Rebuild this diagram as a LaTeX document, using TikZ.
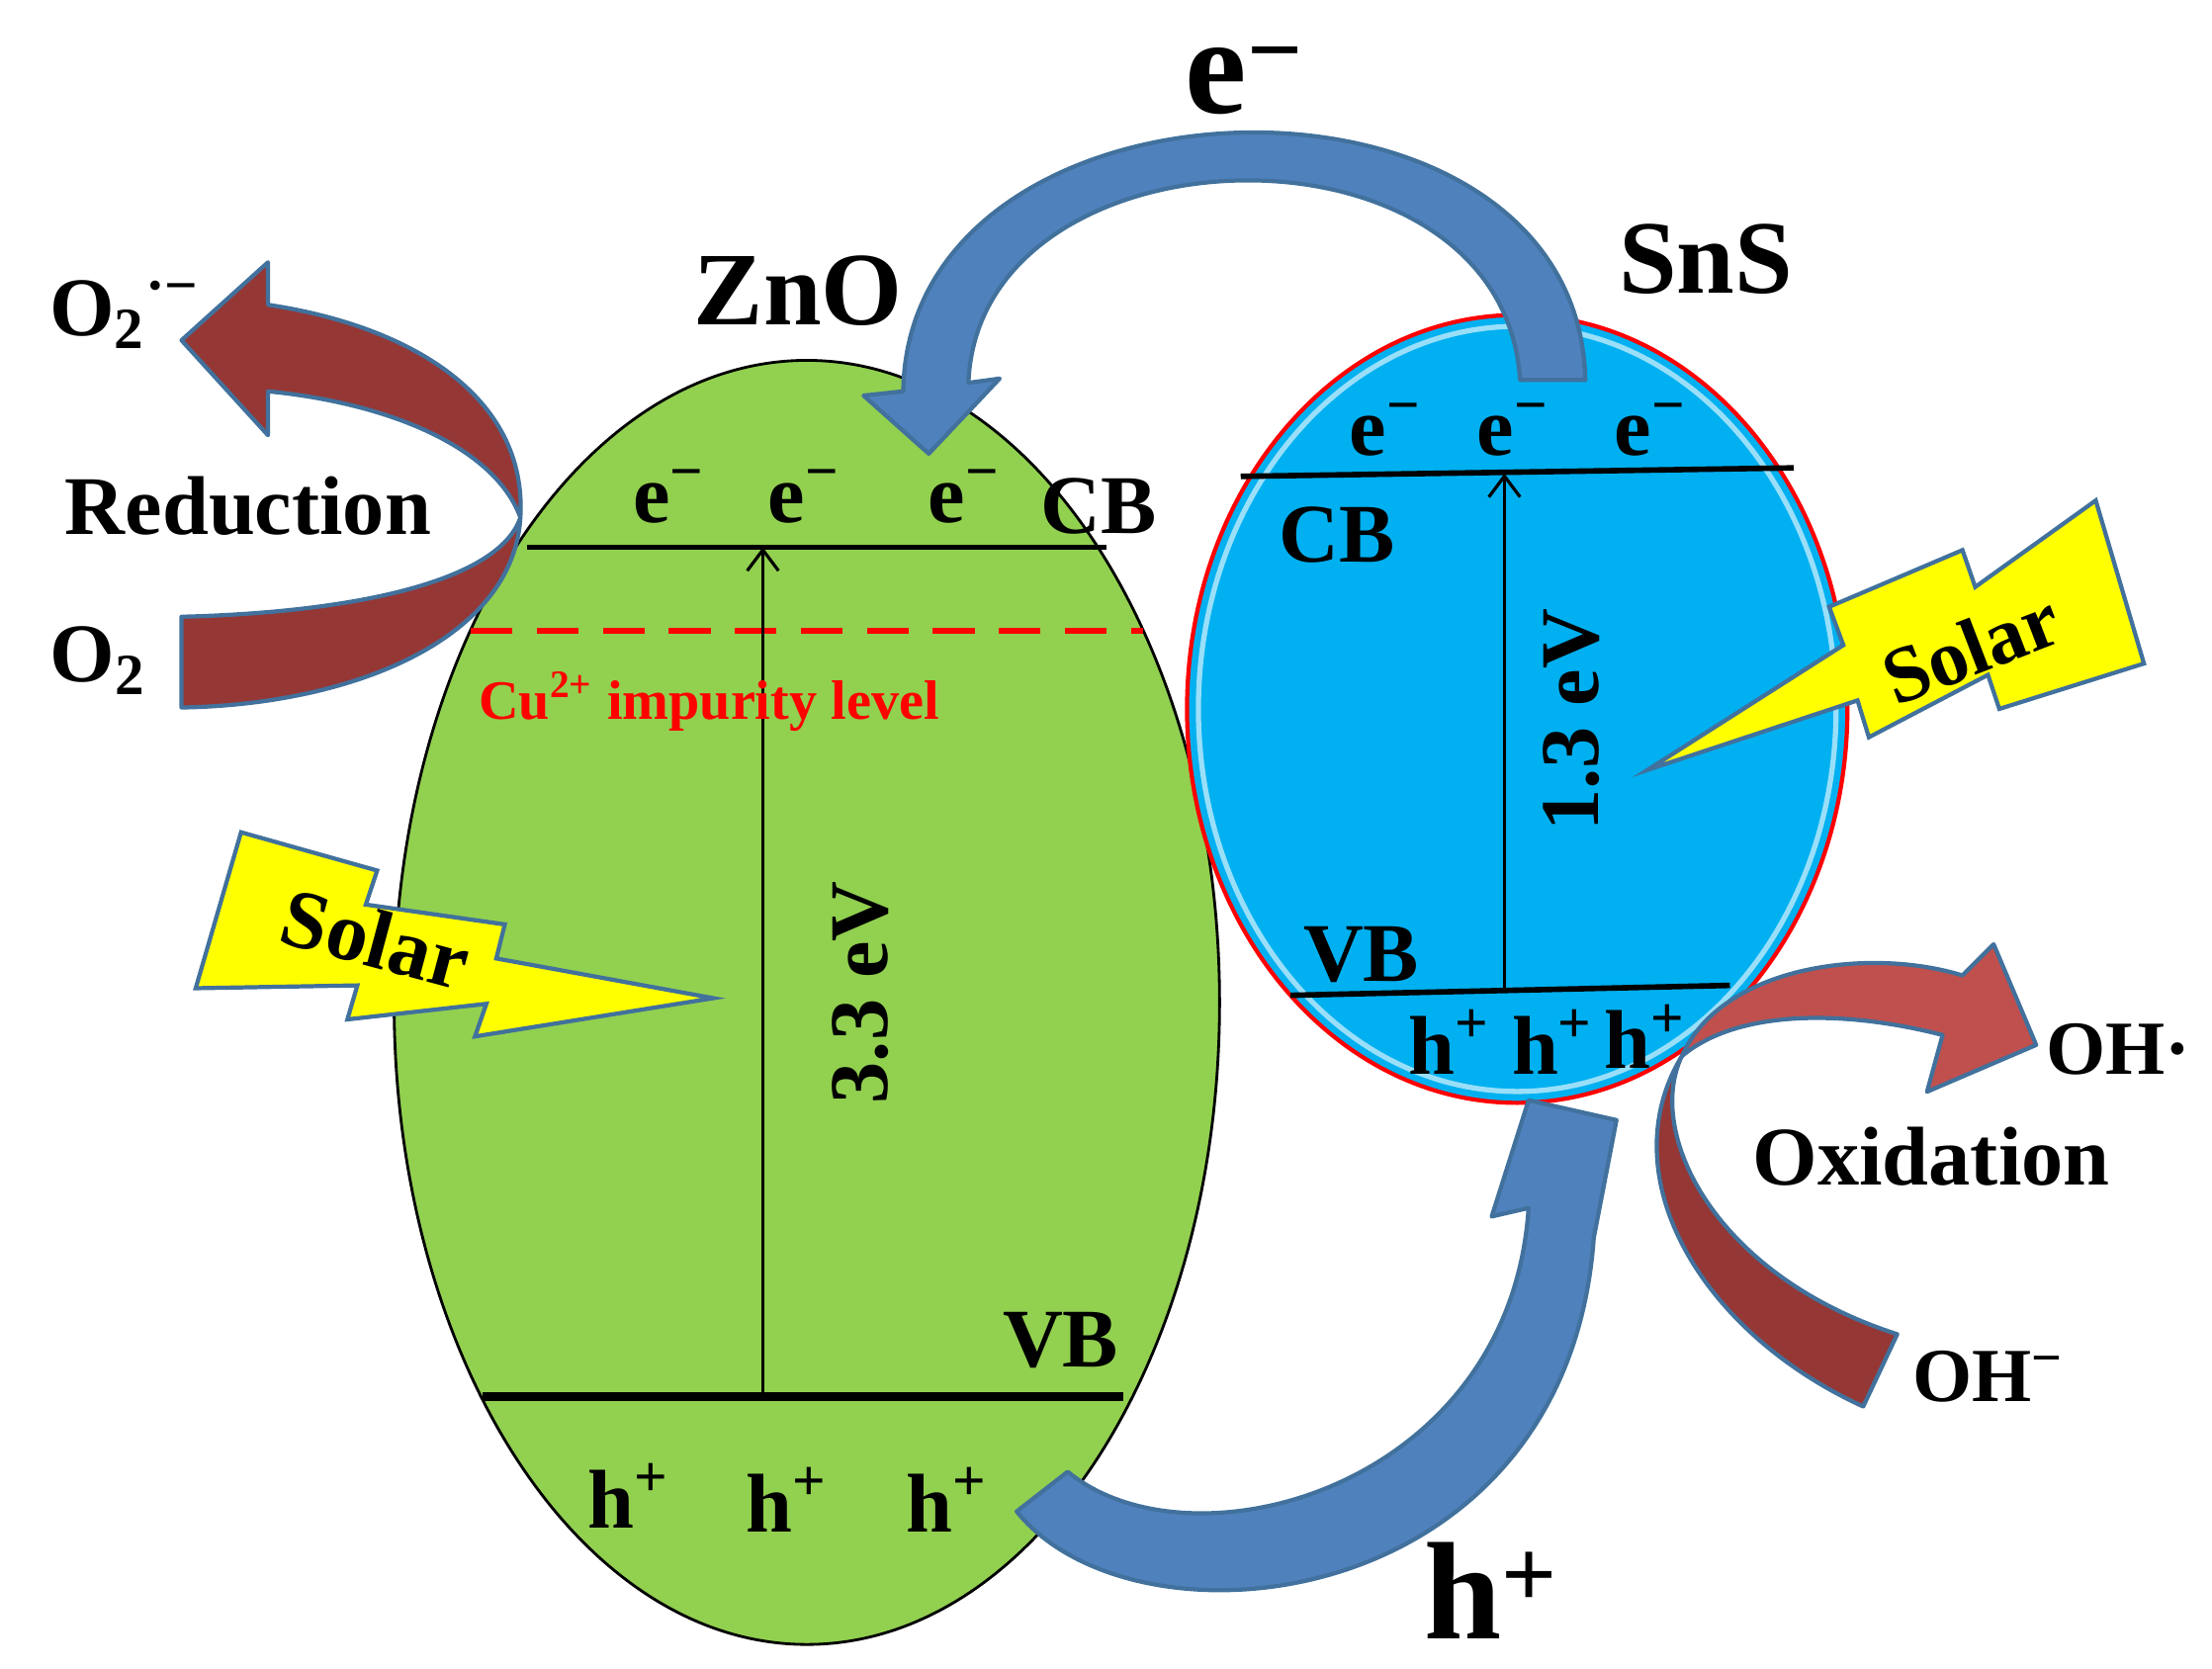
\documentclass[tikz,border=0pt]{standalone}
\usepackage{fontspec}
\setmainfont{Liberation Serif}
\usetikzlibrary{shapes.geometric,arrows.meta}
\definecolor{zgreen}{HTML}{92D050}
\definecolor{sblue}{HTML}{00B0F0}
\definecolor{ablue}{HTML}{4F81BD}
\definecolor{aedge}{HTML}{41719C}
\definecolor{ared}{HTML}{953735}
\definecolor{ared2}{HTML}{C0504D}
\definecolor{bolt}{HTML}{FFFF00}
\newcommand{\mn}{\char"2212}
\newcommand{\up}[1]{\textsuperscript{#1}}
\newcommand{\dn}[1]{\textsubscript{#1}}
\tikzset{
  lbl/.style={font=\bfseries\fontsize{#1}{#1}\selectfont, inner sep=0pt},
  band/.style={line width=0.9pt, black},
  bigarrow/.style={fill=ablue, draw=aedge, line width=1.2pt, line join=round},
  redarrow/.style={fill=ared, draw=aedge, line width=1.2pt, line join=round},
  boltst/.style={fill=bolt, draw=aedge, line width=1.2pt, line join=miter},
}
\begin{document}
\begin{tikzpicture}[x=0.01434cm,y=-0.01434cm]
\useasboundingbox (0,0) rectangle (1560,1177);
% ellipses
\node[ellipse, draw=black, line width=0.8pt, fill=zgreen, minimum width=8.35cm, minimum height=12.99cm, inner sep=0pt] (zno) at (569,707) {};
\node[ellipse, draw=red, line width=1.2pt, fill=sblue, minimum width=6.68cm, minimum height=7.97cm, inner sep=0pt] (sns) at (1070,500) {};
\node[ellipse, draw=white!60!sblue, line width=1.5pt, minimum width=6.45cm, minimum height=7.74cm, inner sep=0pt] (snsglow) at (1070,500) {};
% ZnO bands
\coordinate (zcbL) at (372,386); \coordinate (zcbR) at (780,386);
\coordinate (zvbL) at (340,985); \coordinate (zvbR) at (792,985);
\coordinate (zimpL) at (332,445); \coordinate (zimpR) at (806,445);
\coordinate (zvbA) at (538,985); \coordinate (zcbA) at (538,386);
\draw[band, line width=1.6pt] (zcbL) -- (zcbR);
\draw[band, line width=2.4pt] (zvbL) -- (zvbR);
\draw[red, line width=1.6pt, dash pattern=on 12pt off 7pt] (zimpL) -- (zimpR);
\draw[band, -{Straight Barb[length=6pt,width=9pt]}] (zvbA) -- (zcbA);
% SnS bands
\coordinate (scbL) at (875,336); \coordinate (scbR) at (1265,330);
\coordinate (svbL) at (910,702); \coordinate (svbR) at (1220,695);
\coordinate (svbA) at (1061,699); \coordinate (scbA) at (1061,334);
\draw[band, line width=1.6pt] (scbL) -- (scbR);
\draw[band, line width=1.6pt] (svbL) -- (svbR);
\draw[band, -{Straight Barb[length=6pt,width=9pt]}] (svbA) -- (scbA);
% e- transfer arrow
\draw[bigarrow] (1118,268) .. controls (1113,28) and (640,40) .. (637,276)
  -- (609,279) -- (655,320) -- (705,267) -- (683,270)
  .. controls (690,85) and (1060,75) .. (1072,268) -- cycle;
% h+ transfer arrow
\draw[bigarrow] (717,1066) .. controls (800,1170) and (1105,1140) .. (1124,873)
  -- (1140,790) -- (1078,776) -- (1052,858) -- (1078,852)
  .. controls (1065,1050) and (840,1110) .. (753,1038) -- cycle;
% reduction arrow
\draw[redarrow] (189,215) .. controls (290,230) and (372,280) .. (367,365)
  .. controls (362,450) and (250,497) .. (128,499) -- (128,435)
  .. controls (250,432) and (352,410) .. (367,365)
  .. controls (350,318) and (280,285) .. (189,276)
  -- (189,307) -- (128,240) -- (189,185) -- cycle;
% oxidation arrow
\draw[redarrow, fill=ared2] (1186,745) .. controls (1215,680) and (1320,668) .. (1384,688)
  -- (1406,666) -- (1436,737) -- (1359,770) -- (1370,730)
  .. controls (1300,712) and (1225,712) .. (1186,745) -- cycle;
\draw[redarrow] (1186,745) .. controls (1160,800) and (1210,900) .. (1338,941)
  -- (1314,992) .. controls (1200,940) and (1135,830) .. (1186,745) -- cycle;
% solar bolts
\draw[boltst] (170,587) -- (266,614) -- (258,638) -- (356,652) -- (350,676) -- (503,704)
  -- (335,731) -- (343,708) -- (245,719) -- (252,695) -- (138,697) -- cycle;
\draw[boltst] (1162,543) -- (1300,455) -- (1290,428) -- (1384,388) -- (1393,414) -- (1478,353)
  -- (1512,468) -- (1410,500) -- (1402,476) -- (1318,520) -- (1310,494) -- cycle;
% labels
\node[lbl=30] (tzno) at (563,205) {ZnO};
\node[lbl=30] (tsns) at (1203,183) {SnS};
\node[lbl=40] (tebig) at (878,57) {e\up{\mn}};
\node[lbl=40] (thbig) at (1052,1122) {h\up{+}};
\node[lbl=24] (te1) at (472,350) {e\up{\mn}};
\node[lbl=24] (te2) at (567,350) {e\up{\mn}};
\node[lbl=24] (te3) at (680,350) {e\up{\mn}};
\node[lbl=24] (tcb1) at (775,357) {CB};
\node[lbl=24] (tvb1) at (748,945) {VB};
\node[lbl=24] (th1) at (443,1055) {h\up{+}};
\node[lbl=24] (th2) at (555,1058) {h\up{+}};
\node[lbl=24] (th3) at (668,1058) {h\up{+}};
\node[lbl=16, text=red] (tcu) at (500,495) {Cu\up{2+} impurity level};
\node[lbl=24, rotate=90] (t33) at (607,700) {3.3 eV};
\node[lbl=24] (te4) at (977,303) {e\up{\mn}};
\node[lbl=24] (te5) at (1067,303) {e\up{\mn}};
\node[lbl=24] (te6) at (1164,303) {e\up{\mn}};
\node[lbl=24] (tcb2) at (943,377) {CB};
\node[lbl=24] (tvb2) at (960,673) {VB};
\node[lbl=24] (th4) at (1022,735) {h\up{+}};
\node[lbl=24] (th5) at (1095,735) {h\up{+}};
\node[lbl=24] (th6) at (1160,731) {h\up{+}};
\node[lbl=24, rotate=90] (t13) at (1108,508) {1.3 eV};
\node[lbl=24, rotate=-15] (tsol1) at (265,662) {Solar};
\node[lbl=23, rotate=21] (tsol2) at (1390,457) {Solar};
\node[lbl=24] (tred) at (175,357) {Reduction};
\node[lbl=24] (to2) at (69,466) {O\dn{2}};
\node[lbl=24] (to2m) at (88,222) {O\dn{2}\up{·\mn}};
\node[lbl=24] (tox) at (1362,816) {Oxidation};
\node[lbl=22] (toh) at (1494,740) {OH·};
\node[lbl=22] (tohm) at (1402,971) {OH\up{\mn}};
\end{tikzpicture}
\end{document}
